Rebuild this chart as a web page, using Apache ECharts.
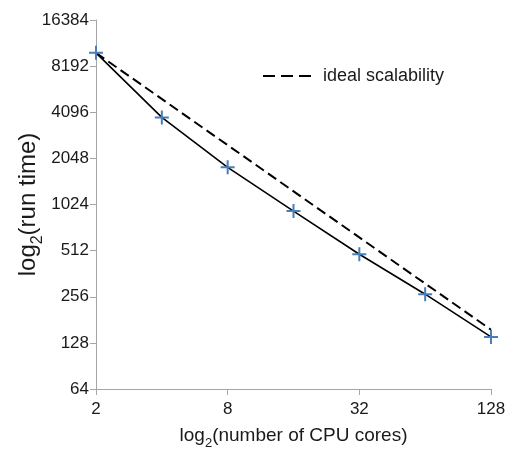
<!DOCTYPE html>
<html>
<head>
<meta charset="utf-8">
<script src="https://cdn.jsdelivr.net/npm/echarts@6/dist/echarts.min.js"></script>
<style>html,body{margin:0;padding:0;background:#fff;}#c{width:510px;height:450px;}</style>
</head>
<body>
<div id="c"></div>
<script>
var cores = [2, 4, 8, 16, 32, 64, 128];
var runTime = [10000, 3790, 1790, 927, 485, 266, 140];
var idealCores = [2, 128];
var idealTime = [10000, 156];
var xTicks = [2, 8, 32, 128];
var yTicks = [64, 128, 256, 512, 1024, 2048, 4096, 8192, 16384];

var FONT = '"Liberation Sans", Arial, sans-serif';
var chart = echarts.init(document.getElementById('c'));
var plus = 'path://M6,0h2v6h6v2h-6v6h-2v-6h-6v-2h6z';
function fmt(v) { return String(Math.round(v)); }

chart.setOption({
  animation: false,
  backgroundColor: '#fff',
  grid: {left: 96, right: 19, top: 20, bottom: 61, containLabel: false, outerBoundsMode: 'none'},
  legend: {
    data: ['ideal scalability'],
    left: 257, top: 62,
    itemWidth: 53, itemHeight: 14,
    itemStyle: {opacity: 0},
    lineStyle: {type: [12, 6], width: 2, color: '#000'},
    textStyle: {fontFamily: FONT, fontSize: 18, color: '#1a1a1a', padding: [0, 0, 0, 2]},
    selectedMode: false
  },
  xAxis: {
    type: 'log', logBase: 2, min: 2, max: 128,
    name: '{a|log}{s|2}{a|(number of CPU cores)}',
    nameLocation: 'middle', nameGap: 34, nameMoveOverlap: false,
    nameTextStyle: {
      fontFamily: FONT, color: '#1a1a1a',
      rich: {
        a: {fontFamily: FONT, fontSize: 19, color: '#1a1a1a', lineHeight: 22, verticalAlign: 'bottom'},
        s: {fontFamily: FONT, fontSize: 13, color: '#1a1a1a', lineHeight: 22, verticalAlign: 'bottom', padding: [0, 0, -5, 0]}
      }
    },
    axisLine: {lineStyle: {color: '#a6a6a6', width: 1}},
    axisTick: {show: true, inside: false, length: 6, lineStyle: {color: '#a6a6a6'}, customValues: xTicks},
    axisLabel: {fontFamily: FONT, fontSize: 17, color: '#1a1a1a', margin: 12, customValues: xTicks, formatter: fmt},
    splitLine: {show: false},
    minorTick: {show: false}
  },
  yAxis: {
    type: 'log', logBase: 2, min: 64, max: 16384,
    name: '{a|log}{s|2}{a|(run time)}',
    nameLocation: 'middle', nameGap: 56, nameRotate: 90, nameMoveOverlap: false,
    nameTextStyle: {
      fontFamily: FONT, color: '#1a1a1a',
      rich: {
        a: {fontFamily: FONT, fontSize: 24, color: '#1a1a1a', lineHeight: 27, verticalAlign: 'bottom'},
        s: {fontFamily: FONT, fontSize: 16, color: '#1a1a1a', lineHeight: 27, verticalAlign: 'bottom', padding: [0, 0, -6, 0]}
      }
    },
    axisLine: {show: true, lineStyle: {color: '#a6a6a6', width: 1}},
    axisTick: {show: true, inside: false, length: 6, lineStyle: {color: '#a6a6a6'}, customValues: yTicks},
    axisLabel: {fontFamily: FONT, fontSize: 17, color: '#1a1a1a', margin: 7, customValues: yTicks, formatter: fmt},
    splitLine: {show: false},
    minorTick: {show: false}
  },
  series: [
    {
      name: 'ideal scalability',
      type: 'line',
      data: idealCores.map(function (c, i) { return [c, idealTime[i]]; }),
      showSymbol: false, symbol: 'none',
      lineStyle: {color: '#000', width: 2, type: [10, 5]},
      itemStyle: {color: '#000'},
      z: 2
    },
    {
      name: 'run time',
      type: 'line',
      data: cores.map(function (c, i) { return [c, runTime[i]]; }),
      symbol: plus, symbolSize: 14, symbolKeepAspect: true,
      lineStyle: {color: '#000', width: 1.6},
      itemStyle: {color: '#4a7ebb'},
      z: 3
    }
  ]
});
</script>
</body>
</html>
